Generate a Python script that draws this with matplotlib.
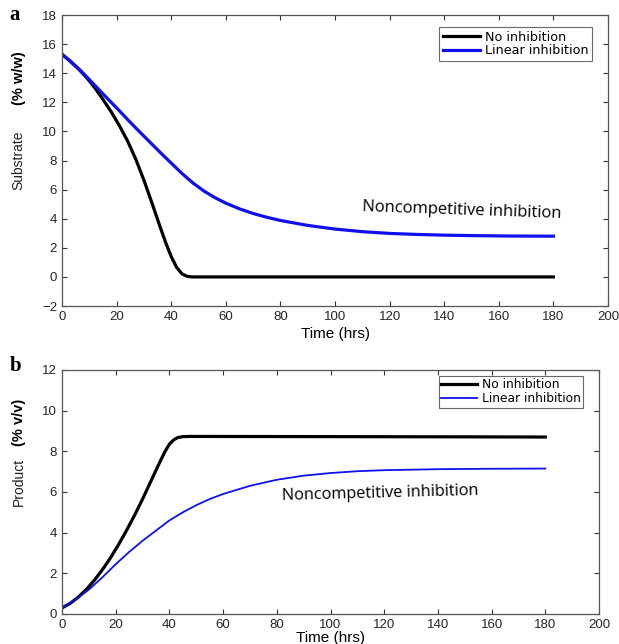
#!/usr/bin/env python
# coding: utf-8

import matplotlib
matplotlib.use('Agg')
import matplotlib.pyplot as plt

# substrate (% w/w) vs time
t_sub_none = [0, 3, 6, 9, 12, 15, 18, 21, 24, 27, 30, 33, 36, 38, 40, 42, 44, 46, 48, 60, 100, 140, 180]
sub_none = [15.3, 14.82, 14.3, 13.7, 13.0, 12.2, 11.35, 10.4, 9.35, 8.1, 6.65, 5.05, 3.4, 2.35, 1.4, 0.65, 0.2, 0.03, 0.0, 0.0, 0.0, 0.0, 0.0]
t_sub_lin = [0, 3, 6, 9, 12, 15, 18, 21, 24, 28, 32, 36, 40, 44, 48, 52, 56, 60, 65, 70, 75, 80, 90, 100, 110, 120, 130, 140, 150, 165, 180]
sub_lin = [15.3, 14.84, 14.32, 13.76, 13.17, 12.58, 12.0, 11.42, 10.82, 10.05, 9.3, 8.55, 7.82, 7.1, 6.45, 5.9, 5.45, 5.07, 4.68, 4.36, 4.1, 3.88, 3.54, 3.29, 3.11, 2.99, 2.92, 2.87, 2.84, 2.81, 2.8]

# product (% v/v) vs time
t_prod_none = [0, 3, 6, 9, 12, 15, 18, 21, 24, 27, 30, 33, 36, 38.4, 40, 41.5, 43, 45, 48, 100, 150, 180]
prod_none = [0.3, 0.52, 0.82, 1.2, 1.65, 2.17, 2.75, 3.4, 4.1, 4.85, 5.65, 6.5, 7.35, 8.0, 8.35, 8.55, 8.67, 8.72, 8.73, 8.72, 8.71, 8.7]
t_prod_lin = [0, 5, 10, 15, 20, 25, 30, 35, 40, 45, 50, 55, 60, 70, 80, 90, 100, 110, 120, 140, 160, 180]
prod_lin = [0.3, 0.7, 1.2, 1.8, 2.45, 3.05, 3.6, 4.1, 4.6, 5.0, 5.35, 5.65, 5.9, 6.3, 6.6, 6.8, 6.93, 7.02, 7.07, 7.12, 7.14, 7.15]

legend_labels = ['No inhibition', 'Linear inhibition']
x_ticks = list(range(0, 201, 20))
sub_ticks = list(range(-2, 19, 2))
prod_ticks = list(range(0, 13, 2))

plt.rcParams['font.family'] = ['Liberation Sans', 'DejaVu Sans']

def style_axes(ax):
	ax.tick_params(direction='in', top=True, right=True, labelsize=9.5,
		colors='#333333', labelcolor='#262626', length=3.5, width=0.8)
	for s in ax.spines.values():
		s.set_color('#555555')
		s.set_linewidth(0.9)

def add_legend(ax, anchor, size, pad):
	leg = ax.legend(loc='upper right', bbox_to_anchor=anchor,
		prop={'family': ['DejaVu Sans'], 'size': size},
		frameon=True, fancybox=False, edgecolor='#444444', handlelength=2.9,
		borderpad=pad, labelspacing=0.05, handletextpad=0.4, borderaxespad=0)
	leg.get_frame().set_linewidth(0.8)

def main():
	fig = plt.figure(figsize=(6.19, 6.44), dpi=100)

	# panel a
	ax1 = fig.add_axes([0.1002, 0.5248, 0.882, 0.4519])
	ax1.plot(t_sub_none, sub_none, color='black', lw=2.3, label=legend_labels[0], solid_joinstyle='round')
	ax1.plot(t_sub_lin, sub_lin, color='#1010ee', lw=2.3, label=legend_labels[1], solid_joinstyle='round')
	ax1.set_xlim(0, 200)
	ax1.set_ylim(-2, 18)
	ax1.set_xticks(x_ticks)
	ax1.set_yticks(sub_ticks)
	style_axes(ax1)
	ax1.set_xlabel('Time (hrs)', fontsize=11, labelpad=3)
	add_legend(ax1, (0.971, 0.959), 9.2, 0.3)
	ax1.text(146.5, 4.6, 'Noncompetitive inhibition', fontsize=11.9, family=['Open Sans', 'DejaVu Sans'],
		rotation=-2, ha='center', va='center', rotation_mode='anchor')

	# panel b
	ax2 = fig.add_axes([0.1002, 0.0466, 0.8675, 0.379])
	ax2.plot(t_prod_none, prod_none, color='black', lw=2.3, label=legend_labels[0], solid_joinstyle='round')
	ax2.plot(t_prod_lin, prod_lin, color='#1010ee', lw=1.3, label=legend_labels[1], solid_joinstyle='round')
	ax2.set_xlim(0, 200)
	ax2.set_ylim(0, 12)
	ax2.set_xticks(x_ticks)
	ax2.set_yticks(prod_ticks)
	style_axes(ax2)
	ax2.set_xlabel('Time (hrs)', fontsize=11, labelpad=0)
	add_legend(ax2, (0.970, 0.975), 8.8, 0.2)
	ax2.text(118.4, 5.95, 'Noncompetitive inhibition', fontsize=11.7, family=['Open Sans', 'DejaVu Sans'],
		rotation=1.5, ha='center', va='center', rotation_mode='anchor')

	# y labels and panel letters
	fig.text(0.03, 1 - 160 / 644, 'Substrate', rotation=90, fontsize=10, ha='center', va='center', color='#222222')
	fig.text(0.03, 1 - 78 / 644, '(% w/w)', rotation=90, fontsize=10.5, fontweight='bold', ha='center', va='center')
	fig.text(0.03, 1 - 482 / 644, 'Product', rotation=90, fontsize=10, ha='center', va='center', color='#222222')
	fig.text(0.03, 1 - 422 / 644, '(% v/v)', rotation=90, fontsize=10.5, fontweight='bold', ha='center', va='center')
	fig.text(0.015, 1 - 15 / 644, 'a', fontsize=15, fontweight='bold', family=['Liberation Serif'], ha='left', va='center')
	fig.text(0.015, 1 - 366 / 644, 'b', fontsize=15, fontweight='bold', family=['Liberation Serif'], ha='left', va='center')

	fig.savefig('out.png', dpi=100)

if '__main__' == __name__:
	main()
